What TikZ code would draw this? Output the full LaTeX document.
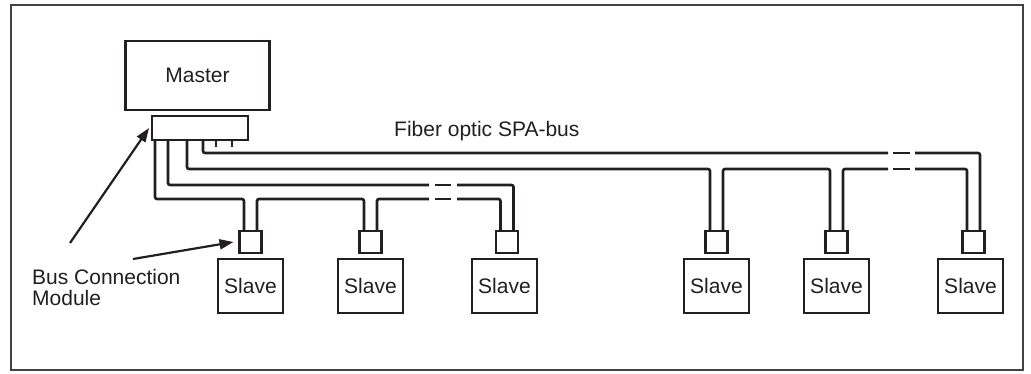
\documentclass[tikz,border=0pt]{standalone}
\usepackage{fontspec}
\setmainfont{Liberation Sans}
\usetikzlibrary{arrows.meta,positioning}
\definecolor{ink}{HTML}{231F20}

\begin{document}
\begin{tikzpicture}[
    x=1pt, y=-1pt,
    node distance=6pt and 55pt,
    box/.style={draw=ink, line width=2.6pt, minimum width=65pt, minimum height=54pt, inner sep=0pt, outer sep=0pt, text=ink, font=\fontsize{21}{21}\selectfont},
    masterbox/.style={box, minimum width=144pt, minimum height=69pt},
    bcm/.style={draw=ink, line width=2.6pt, minimum width=22pt, minimum height=22pt, inner sep=0pt, outer sep=0pt},
    mbcm/.style={bcm, minimum width=96pt, minimum height=24pt},
    lbl/.style={inner sep=0pt, text=ink, font=\fontsize{21}{21}\selectfont},
    bus/.style={draw=ink, line width=2.6pt, rounded corners=2pt},
    pointer/.style={-{Triangle[length=14pt, width=10pt]}, draw=ink, fill=ink, line width=2.2pt},
    frame/.style={draw=ink!85, line width=1.5pt},
]
\useasboundingbox (0,0) rectangle (1031,374);
\draw[frame] (11,5) rectangle (1023,370);
% Master and its module
\node[masterbox] (master) at (197.5,75.5) {Master};
\node[mbcm, below=6pt of master, xshift=2.5pt] (mbcm) {};
% Slaves
\node[box] (slave1) at (250.5,286) {Slave};
\node[box, right=55pt of slave1] (slave2) {Slave};
\node[box, right=69pt of slave2] (slave3) {Slave};
\node[box, right=147pt of slave3] (slave4) {Slave};
\node[box, right=55pt of slave4] (slave5) {Slave};
\node[box, right=69pt of slave5] (slave6) {Slave};
% Bus connection modules
\node[bcm, above=6pt of slave1] (bcm1) {};
\node[bcm, above=6pt of slave2] (bcm2) {};
\node[bcm, above=6pt of slave3, xshift=2.5pt] (bcm3) {};
\node[bcm, above=6pt of slave4] (bcm4) {};
\node[bcm, above=6pt of slave5] (bcm5) {};
\node[bcm, above=6pt of slave6, xshift=3pt] (bcm6) {};
% Labels
\node[lbl, anchor=base west] (buslbl) at (394,137) {Fiber optic SPA-bus};
\node[lbl, align=left, anchor=north west] (bcmlbl) at (32,269) {Bus Connection\\Module};
% Ports
\coordinate (p1) at ([xshift=3pt]mbcm.south west);
\coordinate (p2) at ([xshift=16pt]mbcm.south west);
\coordinate (p3) at ([xshift=35pt]mbcm.south west);
\coordinate (p4) at ([xshift=51pt]mbcm.south west);
\coordinate (s1) at ([xshift=64pt]mbcm.south west);
\coordinate (s2) at ([xshift=80pt]mbcm.south west);
\foreach \i in {1,...,6}{
  \coordinate (in\i) at ([xshift=-6.5pt]bcm\i.north);
  \coordinate (out\i) at ([xshift=6.5pt]bcm\i.north);
}
% Bus levels and breaks
\coordinate (lvA) at (0,199);
\coordinate (lvB) at (0,185);
\coordinate (lvC) at (0,169);
\coordinate (lvD) at (0,153);
\coordinate (gL1) at (429,0);
\coordinate (gL2) at (435,0);
\coordinate (gL3) at (451,0);
\coordinate (gL4) at (457,0);
\coordinate (gR1) at (888,0);
\coordinate (gR2) at (893,0);
\coordinate (gR3) at (910,0);
\coordinate (gR4) at (915,0);
% Left loop
\draw[bus] (p1) -- (p1 |- lvA) -- (in1 |- lvA) -- (in1);
\draw[bus] (out1) -- (out1 |- lvA) -- (in2 |- lvA) -- (in2);
\draw[bus] (out2) -- (out2 |- lvA) -- (gL1 |- lvA);
\draw[bus] (gL2 |- lvA) -- (gL3 |- lvA);
\draw[bus] (gL4 |- lvA) -- (in3 |- lvA) -- (in3);
\draw[bus] (out3) -- (out3 |- lvB) -- (gL4 |- lvB);
\draw[bus] (gL3 |- lvB) -- (gL2 |- lvB);
\draw[bus] (gL1 |- lvB) -- (p2 |- lvB) -- (p2);
% Right loop
\draw[bus] (p3) -- (p3 |- lvC) -- (in4 |- lvC) -- (in4);
\draw[bus] (out4) -- (out4 |- lvC) -- (in5 |- lvC) -- (in5);
\draw[bus] (out5) -- (out5 |- lvC) -- (gR1 |- lvC);
\draw[bus] (gR2 |- lvC) -- (gR3 |- lvC);
\draw[bus] (gR4 |- lvC) -- (in6 |- lvC) -- (in6);
\draw[bus] (out6) -- (out6 |- lvD) -- (gR4 |- lvD);
\draw[bus] (gR3 |- lvD) -- (gR2 |- lvD);
\draw[bus] (gR1 |- lvD) -- (p4 |- lvD) -- (p4);
% Unused ports
\draw[bus] (s1) -- ([yshift=-7pt]s1);
\draw[bus] (s2) -- ([yshift=-7pt]s2);
% Pointers
\coordinate (tail1) at (70,243);
\coordinate (tail2) at (133,259);
\draw[pointer] (tail1) -- ([xshift=-3pt]mbcm.west);
\draw[pointer] (tail2) -- ([xshift=-6pt]bcm1.west);
\end{tikzpicture}
\end{document}
